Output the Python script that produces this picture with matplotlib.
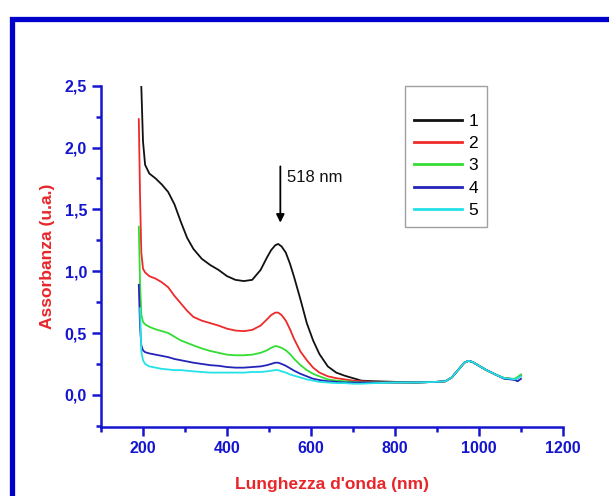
import numpy as np
import matplotlib
matplotlib.use("Agg")
import matplotlib.pyplot as plt
from matplotlib.patches import Rectangle
from matplotlib.ticker import MultipleLocator, FuncFormatter

plt.rcParams['font.family'] = ['Liberation Sans', 'DejaVu Sans']

nan = np.nan
wl = [190, 193, 196, 200, 205, 215, 230, 245, 260, 275, 290, 305, 320, 340, 360,
      380, 400, 420, 440, 460, 480, 495, 505, 515, 522, 530, 540, 550, 560, 575,
      590, 605, 620, 640, 660, 680, 700, 720, 750, 800, 850, 900, 920, 935, 950,
      965, 975, 985, 1000, 1015, 1030, 1045, 1060, 1075, 1085, 1092, 1100]

s1 = [nan, nan, 2.49, 2.05, 1.86, 1.79, 1.75, 1.70, 1.64, 1.54, 1.40, 1.27, 1.18, 1.10, 1.05,
      1.01, 0.96, 0.93, 0.92, 0.93, 1.01, 1.11, 1.17, 1.21, 1.22, 1.20, 1.15, 1.06, 0.95, 0.77,
      0.58, 0.44, 0.33, 0.23, 0.18, 0.155, 0.135, 0.115, 0.11, 0.105, 0.10, 0.105, 0.11, 0.14, 0.20,
      0.26, 0.275, 0.265, 0.235, 0.205, 0.18, 0.155, 0.135, 0.13, 0.125, 0.14, 0.16]
s2 = [2.23, 1.6, 1.15, 1.02, 0.99, 0.96, 0.94, 0.91, 0.87, 0.80, 0.74, 0.68, 0.63, 0.60, 0.58,
      0.56, 0.535, 0.52, 0.515, 0.525, 0.56, 0.61, 0.645, 0.665, 0.665, 0.645, 0.60, 0.53, 0.45, 0.35,
      0.28, 0.22, 0.18, 0.15, 0.135, 0.125, 0.115, 0.11, 0.105, 0.10, 0.10, 0.105, 0.11, 0.14, 0.20,
      0.26, 0.275, 0.265, 0.235, 0.205, 0.18, 0.155, 0.135, 0.13, 0.125, 0.135, 0.155]
s3 = [1.36, 0.9, 0.65, 0.59, 0.57, 0.55, 0.53, 0.515, 0.50, 0.47, 0.44, 0.42, 0.40, 0.375, 0.355,
      0.34, 0.325, 0.32, 0.32, 0.325, 0.34, 0.36, 0.38, 0.395, 0.39, 0.38, 0.36, 0.33, 0.29, 0.24,
      0.20, 0.17, 0.15, 0.125, 0.115, 0.11, 0.105, 0.10, 0.10, 0.10, 0.10, 0.105, 0.11, 0.14, 0.20,
      0.26, 0.275, 0.265, 0.235, 0.205, 0.18, 0.155, 0.135, 0.13, 0.13, 0.145, 0.165]
s4 = [0.89, 0.55, 0.40, 0.36, 0.345, 0.335, 0.325, 0.315, 0.305, 0.29, 0.28, 0.27, 0.26, 0.25, 0.24,
      0.235, 0.225, 0.22, 0.22, 0.225, 0.23, 0.24, 0.25, 0.26, 0.26, 0.25, 0.235, 0.215, 0.195, 0.17,
      0.15, 0.13, 0.12, 0.11, 0.105, 0.10, 0.10, 0.10, 0.10, 0.10, 0.10, 0.105, 0.11, 0.14, 0.20,
      0.26, 0.275, 0.265, 0.235, 0.205, 0.18, 0.155, 0.13, 0.125, 0.12, 0.11, 0.13]
s5 = [nan, 0.70, 0.35, 0.28, 0.25, 0.23, 0.22, 0.21, 0.205, 0.20, 0.20, 0.195, 0.19, 0.185, 0.18,
      0.18, 0.18, 0.18, 0.18, 0.185, 0.185, 0.19, 0.195, 0.20, 0.20, 0.19, 0.18, 0.165, 0.155, 0.14,
      0.125, 0.115, 0.105, 0.10, 0.095, 0.095, 0.09, 0.09, 0.095, 0.10, 0.10, 0.105, 0.11, 0.14, 0.20,
      0.26, 0.275, 0.265, 0.235, 0.205, 0.18, 0.155, 0.135, 0.13, 0.125, 0.135, 0.15]

series = [s1, s2, s3, s4, s5]
labels = ['1', '2', '3', '4', '5']
colors = ['#111111', '#ee2a2a', '#33dd33', '#2424b8', '#22e2e8']

axis_blue = '#1515d0'
label_red = '#e8262a'

fig = plt.figure(figsize=(6.09, 4.96), dpi=100)
fig.patch.set_facecolor('white')

# blue frame around the figure
fig.patches.append(Rectangle((11.5 / 609, -0.2), 1.3, 1.2 - 18.5 / 496,
                             transform=fig.transFigure, fill=False,
                             edgecolor='#0000cc', linewidth=3.8, zorder=0))

ax = fig.add_axes([101 / 609, 1 - 427 / 496, (563 - 101) / 609, (427 - 85.7) / 496])
for s, lab, c in zip(series, labels, colors):
    ax.plot(wl, s, color=c, lw=1.3, label=lab)

ax.set_xlim(100, 1200)
ax.set_ylim(-0.26, 2.5)
ax.xaxis.set_major_locator(MultipleLocator(200))
ax.xaxis.set_minor_locator(MultipleLocator(100))
ax.yaxis.set_major_locator(MultipleLocator(0.5))
ax.yaxis.set_minor_locator(MultipleLocator(0.25))
ax.yaxis.set_major_formatter(FuncFormatter(lambda v, p: f"{v:.1f}".replace('.', ',')))
ax.xaxis.set_major_formatter(FuncFormatter(lambda v, p: f"{int(round(v))}" if v >= 150 else ""))

for side in ['top', 'right']:
    ax.spines[side].set_visible(False)
for side in ['left', 'bottom']:
    ax.spines[side].set_color(axis_blue)
    ax.spines[side].set_linewidth(1.8)

ax.tick_params(which='major', direction='out', length=6.5, width=1.8, color=axis_blue,
               labelcolor=axis_blue, labelsize=11.5, pad=3.5)
ax.tick_params(which='minor', direction='out', length=3.8, width=1.8, color=axis_blue)
for t in ax.get_xticklabels() + ax.get_yticklabels():
    t.set_fontweight('bold')

ax.set_xlabel("Lunghezza d'onda (nm)", color=label_red, fontsize=12.5, fontweight='bold', labelpad=15)
ax.set_ylabel("Assorbanza (u.a.)", color=label_red, fontsize=12.5, fontweight='bold', labelpad=7)

# annotation arrow
ax.annotate('', xy=(527, 1.37), xytext=(527, 1.87),
            arrowprops=dict(arrowstyle='-|>', color='black', lw=1.3, mutation_scale=12))
ax.text(542, 1.76, '518 nm', fontsize=12, va='center', ha='left', color='#111111')

leg = ax.legend(loc='upper left', bbox_to_anchor=(405 / 609, 1 - 86 / 496),
                bbox_transform=fig.transFigure, borderaxespad=0, frameon=True,
                fancybox=False, edgecolor='#888888', fontsize=12.5, title=' ',
                title_fontsize=9, handlelength=2.8, handletextpad=0.35,
                labelspacing=0.41, borderpad=0.5)
leg.get_frame().set_linewidth(1.0)
for line in leg.get_lines():
    line.set_linewidth(2.0)

fig.savefig('out.png', dpi=100, facecolor='white')
